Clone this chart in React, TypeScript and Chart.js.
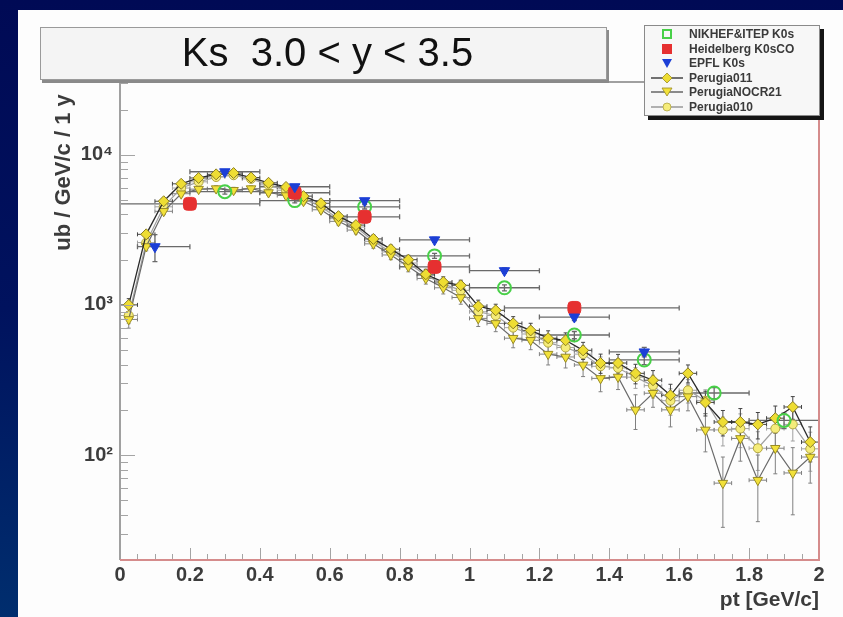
import React, { useEffect, useRef } from 'react';
import { Chart, registerables } from 'chart.js';
Chart.register(...registerables);

const FONT = '"Liberation Sans", Arial, sans-serif';

// ---- Monte Carlo (Perugia tunes), bin centres in pt [GeV/c]
const mcPt = [0.025, 0.075, 0.125, 0.175, 0.225, 0.275, 0.325, 0.375, 0.425, 0.475,
  0.525, 0.575, 0.625, 0.675, 0.725, 0.775, 0.825, 0.875, 0.925, 0.975,
  1.025, 1.075, 1.125, 1.175, 1.225, 1.275, 1.325, 1.375, 1.425, 1.475,
  1.525, 1.575, 1.625, 1.675, 1.725, 1.775, 1.825, 1.875, 1.925, 1.975];
const mcHalfWidth = 0.025;
const perugia011 = [1000, 2950, 4900, 6400, 7000, 7400, 7550, 7050, 6500, 6100,
  5300, 4750, 3900, 3400, 2750, 2350, 2000, 1600, 1420, 1350,
  980, 920, 753, 676, 600, 581, 498, 410, 410, 350,
  315, 250, 350, 224, 166, 166, 160, 176, 209, 122];
const perugiaNOCR21 = [800, 2450, 4200, 5500, 5900, 5950, 5800, 5950, 5600, 5350,
  4900, 4300, 3600, 3150, 2550, 2150, 1800, 1500, 1300, 1120,
  813, 753, 600, 581, 470, 450, 398, 324, 331, 200,
  258, 200, 245, 147, 65, 129, 68, 111, 76, 97];
const perugia010 = [850, 2600, 4500, 6000, 6600, 7100, 7300, 6900, 6300, 5800,
  5100, 4500, 3750, 3300, 2650, 2250, 1900, 1570, 1380, 1250,
  900, 850, 705, 640, 560, 520, 470, 390, 380, 330,
  290, 230, 270, 230, 147, 150, 111, 150, 160, 110];
const mcErr = [100, 160, 210, 240, 260, 265, 265, 260, 250, 240,
  225, 210, 195, 180, 165, 150, 140, 125, 118, 110,
  95, 90, 82, 78, 72, 70, 65, 60, 58, 52,
  50, 46, 48, 42, 32, 38, 32, 36, 36, 32];

// ---- Data
const nikhefPt = [0.3, 0.5, 0.7, 0.9, 1.1, 1.3, 1.5, 1.7, 1.9];
const nikhefVal = [5670, 4950, 4500, 2120, 1300, 630, 430, 259, 170];
const nikhefLo = [0.2, 0.4, 0.6, 0.8, 1.0, 1.2, 1.4, 1.6, 1.8];
const nikhefHi = [0.4, 0.6, 0.8, 1.0, 1.2, 1.4, 1.6, 1.8, 2.0];
const nikhefErr = [200, 170, 150, 80, 60, 35, 30, 22, 20];

const heidelbergPt = [0.2, 0.5, 0.7, 0.9, 1.3];
const heidelbergVal = [4710, 5580, 3860, 1790, 955];
const heidelbergLo = [0.0, 0.4, 0.6, 0.8, 1.1];
const heidelbergHi = [0.4, 0.6, 0.8, 1.0, 1.6];
const heidelbergErr = [150, 180, 130, 70, 50];

const epflPt = [0.1, 0.3, 0.5, 0.7, 0.9, 1.1, 1.3, 1.5];
const epflVal = [2440, 7700, 6120, 4940, 2710, 1690, 830, 486];
const epflLo = [0.05, 0.2, 0.4, 0.6, 0.8, 1.0, 1.2, 1.4];
const epflHi = [0.2, 0.4, 0.6, 0.8, 1.0, 1.2, 1.4, 1.6];
const epflErr = [500, 250, 200, 160, 100, 70, 45, 35];

// ---- Axes
const yTickValues = [100, 1000, 10000];
const yTickLabels = ['10²', '10³', '10⁴'];
const yMin = 20;
const yMax = 30500;
const legendLabels = ['NIKHEF&ITEP K0s', 'Heidelberg K0sCO', 'EPFL K0s', 'Perugia011', 'PerugiaNOCR21', 'Perugia010'];

const pts = (xs: number[], ys: number[]) => xs.map((x, i) => ({ x, y: ys[i] }));

const errorBarPlugin = {
  id: 'rootErrorBars',
  beforeDatasetsDraw(chart: any) {
    const { ctx, chartArea: a } = chart;
    const xs = chart.scales.x, ys = chart.scales.y;
    ctx.save();
    ctx.beginPath();
    ctx.rect(a.left, a.top, a.right - a.left, a.bottom - a.top);
    ctx.clip();
    const list = [...chart.data.datasets].reverse();
    list.forEach((ds: any) => {
      const e = ds.errBars;
      if (!e) return;
      ctx.strokeStyle = e.color;
      ctx.lineWidth = e.width;
      ds.data.forEach((p: any, j: number) => {
        const px = xs.getPixelForValue(p.x), py = ys.getPixelForValue(p.y);
        const x0 = xs.getPixelForValue(e.lo[j]), x1 = xs.getPixelForValue(e.hi[j]);
        const yTop = ys.getPixelForValue(p.y + e.err[j]);
        const yBot = ys.getPixelForValue(Math.max(p.y - e.err[j], 1));
        const c = e.cap;
        ctx.beginPath();
        ctx.moveTo(x0, py); ctx.lineTo(x1, py);
        ctx.moveTo(x0, py - c); ctx.lineTo(x0, py + c);
        ctx.moveTo(x1, py - c); ctx.lineTo(x1, py + c);
        ctx.moveTo(px, yTop); ctx.lineTo(px, yBot);
        ctx.moveTo(px - c, yTop); ctx.lineTo(px + c, yTop);
        ctx.moveTo(px - c, yBot); ctx.lineTo(px + c, yBot);
        ctx.stroke();
      });
    });
    ctx.restore();
  },
};

const framePlugin = {
  id: 'rootFrame',
  afterDatasetsDraw(chart: any) {
    const { ctx, chartArea: a } = chart;
    const xs = chart.scales.x, ys = chart.scales.y;
    ctx.save();
    ctx.strokeStyle = '#a4a4a4';
    ctx.lineWidth = 1;
    ctx.beginPath();
    for (let d = 10; d <= 10000; d *= 10) {
      for (let k = 1; k <= 9; k++) {
        const v = k * d;
        if (v < yMin || v > yMax) continue;
        const py = Math.round(ys.getPixelForValue(v)) + 0.5;
        const len = k === 1 ? 15 : 8;
        ctx.moveTo(a.left, py); ctx.lineTo(a.left + len, py);
      }
    }
    for (let i = 0; i <= 40; i++) {
      const px = Math.round(xs.getPixelForValue(i * 0.05)) + 0.5;
      const len = i % 4 === 0 ? 12 : 6;
      ctx.moveTo(px, a.bottom); ctx.lineTo(px, a.bottom - len);
    }
    ctx.stroke();
    ctx.lineWidth = 2;
    ctx.strokeStyle = '#a0a0a0';
    ctx.beginPath();
    ctx.moveTo(a.left, a.bottom); ctx.lineTo(a.left, a.top); ctx.lineTo(a.right, a.top);
    ctx.stroke();
    ctx.strokeStyle = '#d58c8c';
    ctx.beginPath();
    ctx.moveTo(a.left, a.bottom); ctx.lineTo(a.right, a.bottom); ctx.lineTo(a.right, a.top);
    ctx.stroke();
    ctx.restore();
  },
};

function LegendMark({ i }: { i: number }) {
  const w = 34, h = 14, cx = 16, cy = 7;
  let shape: React.ReactNode = null;
  let line: React.ReactNode = null;
  if (i === 0) shape = <rect x={cx - 4} y={cy - 4} width={8} height={8} fill="none" stroke="#48d048" strokeWidth={2} />;
  if (i === 1) shape = <rect x={cx - 5} y={cy - 5} width={10} height={10} fill="#e63030" />;
  if (i === 2) shape = <polygon points={`${cx - 5},${cy - 4} ${cx + 5},${cy - 4} ${cx},${cy + 5}`} fill="#1c3fd6" />;
  if (i >= 3) {
    const lc = i === 3 ? '#444' : i === 4 ? '#666' : '#999';
    line = <line x1={0} y1={cy} x2={w - 2} y2={cy} stroke={lc} strokeWidth={1.5} />;
    if (i === 3) shape = <polygon points={`${cx},${cy - 5} ${cx + 5},${cy} ${cx},${cy + 5} ${cx - 5},${cy}`} fill="#eedd33" stroke="#9a8c25" strokeWidth={0.8} />;
    if (i === 4) shape = <polygon points={`${cx - 5},${cy - 4} ${cx + 5},${cy - 4} ${cx},${cy + 4}`} fill="#f2e13a" stroke="#9a8c25" strokeWidth={0.8} />;
    if (i === 5) shape = <circle cx={cx} cy={cy} r={4} fill="#f5ec7a" stroke="#b0a440" strokeWidth={0.8} />;
  }
  return (
    <svg width={w} height={h} style={{ position: 'absolute', left: 6, top: 0 }}>
      {line}
      {shape}
    </svg>
  );
}

export default function App() {
  const ref = useRef<HTMLCanvasElement>(null);
  useEffect(() => {
    document.body.style.margin = '0';
    const canvas = ref.current!;
    const mcLo = mcPt.map((p) => p - mcHalfWidth);
    const mcHi = mcPt.map((p) => p + mcHalfWidth);
    const tickFont = { family: FONT, size: 20, weight: 'bold' as const };
    const chart = new Chart(canvas, {
      type: 'scatter',
      data: {
        datasets: [
          {
            label: legendLabels[2], data: pts(epflPt, epflVal), pointStyle: 'triangle', rotation: 180,
            pointRadius: 6, backgroundColor: '#1c3fd6', borderColor: '#1c3fd6', borderWidth: 1, showLine: false,
            errBars: { lo: epflLo, hi: epflHi, err: epflErr, color: '#6a6a6a', width: 1.3, cap: 2.5 },
          } as any,
          {
            label: legendLabels[1], data: pts(heidelbergPt, heidelbergVal), pointStyle: 'rectRounded',
            pointRadius: 7.5, backgroundColor: '#e63030', borderColor: '#e63030', borderWidth: 1, showLine: false,
            errBars: { lo: heidelbergLo, hi: heidelbergHi, err: heidelbergErr, color: '#6a6a6a', width: 1.3, cap: 2.5 },
          } as any,
          {
            label: legendLabels[0], data: pts(nikhefPt, nikhefVal), pointStyle: 'circle',
            pointRadius: 6.5, backgroundColor: 'rgba(255,255,255,0)', borderColor: '#48d048', borderWidth: 2, showLine: false,
            errBars: { lo: nikhefLo, hi: nikhefHi, err: nikhefErr, color: '#6a6a6a', width: 1.3, cap: 2.5 },
          } as any,
          {
            label: legendLabels[3], data: pts(mcPt, perugia011), pointStyle: 'rectRot', pointRadius: 5.5,
            backgroundColor: '#eedd33', borderColor: '#2a2a2a', pointBorderColor: '#8a7d20', borderWidth: 1.3,
            pointBorderWidth: 1, showLine: true, tension: 0,
            errBars: { lo: mcLo, hi: mcHi, err: mcErr, color: '#444', width: 1, cap: 2 },
          } as any,
          {
            label: legendLabels[4], data: pts(mcPt, perugiaNOCR21), pointStyle: 'triangle', rotation: 180, pointRadius: 5.5,
            backgroundColor: '#f2e13a', borderColor: '#6a6a6a', pointBorderColor: '#9a8c25', borderWidth: 1.2,
            pointBorderWidth: 1, showLine: true, tension: 0,
            errBars: { lo: mcLo, hi: mcHi, err: mcErr, color: '#808080', width: 1, cap: 2 },
          } as any,
          {
            label: legendLabels[5], data: pts(mcPt, perugia010), pointStyle: 'circle', pointRadius: 4.5,
            backgroundColor: '#f5ec7a', borderColor: '#a0a0a0', pointBorderColor: '#b0a440', borderWidth: 1.2,
            pointBorderWidth: 1, showLine: true, tension: 0,
            errBars: { lo: mcLo, hi: mcHi, err: mcErr, color: '#a0a0a0', width: 1, cap: 2 },
          } as any,
        ],
      },
      options: {
        responsive: false,
        animation: false,
        layout: { padding: { left: 46, top: 82, right: 24, bottom: 0 } },
        plugins: { legend: { display: false }, tooltip: { enabled: false } },
        scales: {
          x: {
            type: 'linear', min: 0, max: 2, position: 'bottom',
            grid: { display: false, drawTicks: false }, border: { display: false },
            ticks: {
              stepSize: 0.2, padding: 3, autoSkip: false, maxRotation: 0, color: '#3c3c3c', font: tickFont,
              callback: (v: any) => String(Number(Number(v).toFixed(1))),
            },
            title: { display: true, text: 'pt [GeV/c]', align: 'end', color: '#3c3c3c', font: { family: FONT, size: 21, weight: 'bold' }, padding: { top: 0, bottom: 4 } },
            afterFit: (s: any) => { s.height = 57; },
          },
          y: {
            type: 'logarithmic', min: yMin, max: yMax, position: 'left',
            grid: { display: false, drawTicks: false }, border: { display: false },
            afterBuildTicks: (s: any) => { s.ticks = yTickValues.map((v) => ({ value: v })); },
            ticks: {
              padding: 7, color: '#3c3c3c', font: { family: FONT, size: 20, weight: 'bold' },
              callback: (v: any) => { const i = yTickValues.indexOf(Number(v)); return i >= 0 ? yTickLabels[i] : ''; },
            },
            title: { display: true, text: 'ub / GeV/c / 1 y\u00a0\u00a0', align: 'end', color: '#3c3c3c', font: { family: FONT, size: 22, weight: 'bold' }, padding: { top: 5, bottom: 0 } },
            afterFit: (s: any) => { s.width = 74; },
          },
        },
      } as any,
      plugins: [errorBarPlugin, framePlugin],
    });
    return () => chart.destroy();
  }, []);

  return (
    <div style={{ position: 'relative', width: 843, height: 617, overflow: 'hidden', background: 'linear-gradient(to bottom, #000a55 0%, #00125e 50%, #002e6e 100%)' }}>
      <div style={{ position: 'absolute', left: 18, top: 10, right: 0, bottom: 0, background: '#fdfdfd' }} />
      <canvas ref={ref} width={843} height={617} style={{ position: 'absolute', left: 0, top: 0 }} />
      <div style={{
        position: 'absolute', left: 40, top: 27, width: 565, height: 51, border: '1px solid #9a9a9a',
        background: '#f4f4f4', boxShadow: '2px 3px 0 #8a8a8a', display: 'flex', alignItems: 'center', justifyContent: 'center',
        fontFamily: FONT, fontSize: 40, color: '#111', whiteSpace: 'pre', lineHeight: '1',
      }}>
        <span style={{ position: 'relative', top: -2, left: 4 }}>{'Ks  3.0 < y < 3.5'}</span>
      </div>
      <div style={{
        position: 'absolute', left: 644, top: 25, width: 174, height: 89, border: '1px solid #8a8a8a',
        background: '#f7f7f7', boxShadow: '4px 4px 0 #151515',
      }}>
        {legendLabels.map((t, i) => (
          <div key={t} style={{ position: 'absolute', left: 0, top: 1 + i * 14.6, width: 174, height: 14 }}>
            <LegendMark i={i} />
            <span style={{ position: 'absolute', left: 44, top: 0, fontFamily: FONT, fontSize: 12, fontWeight: 'bold', color: '#3a3a3a', lineHeight: '14px', whiteSpace: 'nowrap' }}>{t}</span>
          </div>
        ))}
      </div>
    </div>
  );
}
